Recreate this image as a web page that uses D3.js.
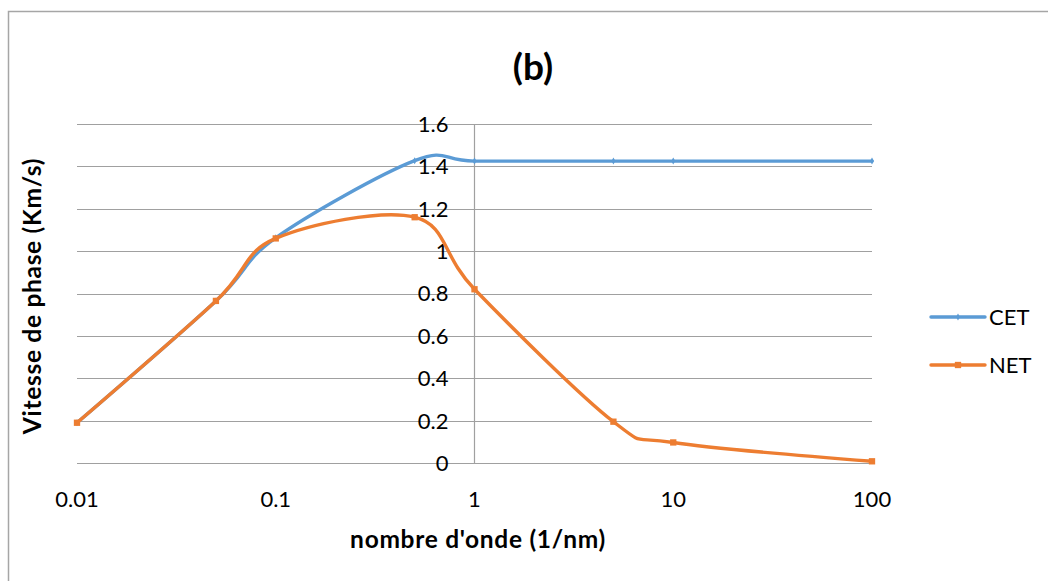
<!DOCTYPE html>
<html><head><meta charset="utf-8">
<script src="https://cdn.jsdelivr.net/npm/d3@7"></script>
<style>body{margin:0;background:#fff}svg{display:block}text{font-family:Lato,"Open Sans",sans-serif}</style>
</head><body>
<svg id="c" width="1048" height="581"></svg>
<script>
const xValues = [0.01, 0.05, 0.1, 0.5, 1, 5, 10, 100];
const cetValues = [0.19, 0.765, 1.063, 1.427, 1.425, 1.425, 1.425, 1.425];
const netValues = [0.19, 0.765, 1.06, 1.16, 0.82, 0.195, 0.097, 0.008];
const xTicks = [0.01, 0.1, 1, 10, 100];
const xTickLabels = ["0.01", "0.1", "1", "10", "100"];
const yTicks = [0, 0.2, 0.4, 0.6, 0.8, 1, 1.2, 1.4, 1.6];
const yTickLabels = ["0", "0.2", "0.4", "0.6", "0.8", "1", "1.2", "1.4", "1.6"];
const seriesNames = ["CET", "NET"];

const svg = d3.select("#c");
const x = d3.scaleLog().domain([0.01, 100]).range([77, 872]);
const y = d3.scaleLinear().domain([0, 1.6]).range([463, 124]);
const colors = ["#5B9BD5", "#ED7D31"];

svg.append("rect").attr("x", 8.5).attr("y", 11.5).attr("width", 1200).attr("height", 700)
  .attr("fill", "none").attr("stroke", "#a6a6a6").attr("stroke-width", 1.5);

// gridlines
svg.append("g").selectAll("line").data(yTicks).join("line")
  .attr("x1", x(0.01)).attr("x2", x(100))
  .attr("y1", d => Math.round(y(d)) + 0.5).attr("y2", d => Math.round(y(d)) + 0.5)
  .attr("stroke", "#a0a0a0").attr("stroke-width", 1.2);

// vertical axis at x=1
svg.append("line").attr("x1", Math.round(x(1)) + 0.5).attr("x2", Math.round(x(1)) + 0.5)
  .attr("y1", y(1.6)).attr("y2", y(0)).attr("stroke", "#a0a0a0").attr("stroke-width", 1.2);

// y tick labels
svg.append("g").selectAll("text").data(yTicks).join("text")
  .attr("x", x(1) - 26).attr("y", d => y(d)).attr("dy", "0.36em")
  .attr("text-anchor", "end").attr("font-size", 22).attr("fill", "#000")
  .text((d, i) => yTickLabels[i]);

// x tick labels
svg.append("g").selectAll("text").data(xTicks).join("text")
  .attr("x", d => x(d)).attr("y", 507)
  .attr("text-anchor", "middle").attr("font-size", 22).attr("fill", "#000")
  .text((d, i) => xTickLabels[i]);

// title
svg.append("text").attr("x", 533).attr("y", 80).attr("text-anchor", "middle")
  .attr("font-size", 37).attr("font-weight", "bold").text("(b)");

// axis titles
svg.append("text").attr("x", 478).attr("y", 548).attr("text-anchor", "middle")
  .attr("font-size", 24.5).attr("letter-spacing", 0.7).attr("font-weight", "bold").text("nombre d'onde (1/nm)");
svg.append("text").attr("transform", "translate(41,296) rotate(-90)").attr("text-anchor", "middle")
  .attr("font-size", 24.5).attr("letter-spacing", 0.7).attr("font-weight", "bold").text("Vitesse de phase (Km/s)");

const line = d3.line().x(d => x(d[0])).y(d => y(d[1])).curve(d3.curveCardinal.tension(0));
const series = [cetValues, netValues];
const symbols = [d3.symbol(d3.symbolDiamond, 14), d3.symbol(d3.symbolSquare, 40)];

series.forEach((vals, i) => {
  const pts = xValues.map((xv, j) => [xv, vals[j]]);
  svg.append("path").attr("d", line(pts)).attr("fill", "none")
    .attr("stroke", colors[i]).attr("stroke-width", 3.4).attr("stroke-linecap", "round");
  svg.append("g").selectAll("path").data(pts).join("path")
    .attr("transform", d => `translate(${x(d[0])},${y(d[1])})`)
    .attr("d", symbols[i]()).attr("fill", colors[i]);
});

// legend
const legY = [317, 365];
seriesNames.forEach((name, i) => {
  svg.append("line").attr("x1", 931).attr("x2", 985).attr("y1", legY[i]).attr("y2", legY[i])
    .attr("stroke", colors[i]).attr("stroke-width", 3.4).attr("stroke-linecap", "round");
  svg.append("path").attr("transform", `translate(958,${legY[i]})`).attr("d", symbols[i]()).attr("fill", colors[i]);
  svg.append("text").attr("x", 989).attr("y", legY[i]).attr("dy", "0.36em")
    .attr("font-size", 22).text(name);
});
</script>
</body></html>
